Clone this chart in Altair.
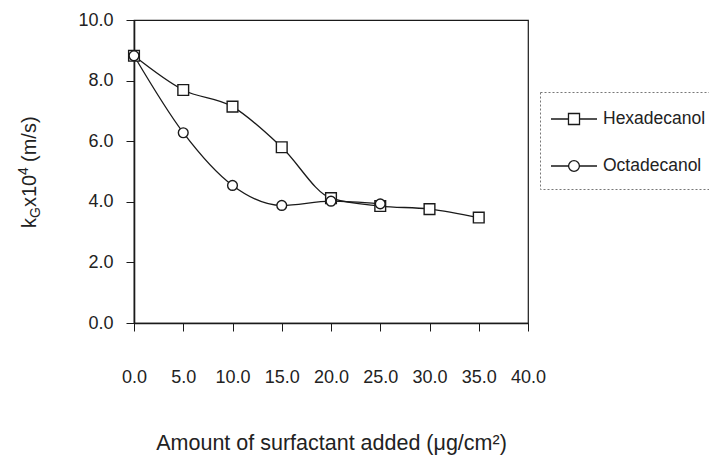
import altair as alt
import pandas as pd

# ---- data ----
series_names = ["Hexadecanol", "Octadecanol"]
amount_hexa = [0, 5, 10, 15, 20, 25, 30, 35]
kg_hexa = [8.82, 7.69, 7.14, 5.80, 4.12, 3.86, 3.76, 3.48]
amount_octa = [0, 5, 10, 15, 20, 25]
kg_octa = [8.82, 6.28, 4.54, 3.88, 4.02, 3.93]
x_ticks = [0, 5, 10, 15, 20, 25, 30, 35, 40]
y_ticks = [0, 2, 4, 6, 8, 10]

df = pd.concat([
    pd.DataFrame({"series": series_names[0], "amount": amount_hexa, "kg": kg_hexa}),
    pd.DataFrame({"series": series_names[1], "amount": amount_octa, "kg": kg_octa}),
], ignore_index=True)

FONT = "Liberation Sans"
INK = "#1a1a1a"
TXT = "#222222"

X = alt.X("amount:Q",
          scale=alt.Scale(domain=[0, 40], nice=False, zero=False),
          axis=alt.Axis(values=x_ticks, format=".1f",
                        title="Amount of surfactant added (μg/cm²)",
                        titleFont=FONT, titleFontSize=21.5, titleFontWeight="normal",
                        titleColor=TXT, titleY=126, titleBaseline="alphabetic",
                        labelFont=FONT, labelFontSize=18, labelColor=TXT,
                        labelPadding=37, tickSize=8, tickColor=INK,
                        domainColor=INK, domainWidth=1.6, grid=False,
                        labelFlush=False))
Y = alt.Y("kg:Q",
          scale=alt.Scale(domain=[0, 10], nice=False),
          axis=alt.Axis(values=y_ticks, format=".1f", title=None,
                        labelFont=FONT, labelFontSize=18, labelColor=TXT,
                        labelPadding=13, tickSize=8, tickColor=INK,
                        domainColor=INK, domainWidth=1.6, grid=False))

lines = alt.Chart(df).mark_line(
    interpolate="monotone", color=INK, strokeWidth=1.3
).encode(x=X, y=Y, detail="series:N")

pts_hexa = alt.Chart(df).transform_filter(
    alt.datum.series == series_names[0]
).mark_point(shape="square", filled=True, fill="white", stroke=INK,
             strokeWidth=1.4, size=115, opacity=1).encode(x=X, y=Y)

pts_octa = alt.Chart(df).transform_filter(
    alt.datum.series == series_names[1]
).mark_point(shape="circle", filled=True, fill="white", stroke=INK,
             strokeWidth=1.4, size=95, opacity=1).encode(x=X, y=Y)

# legend glyphs: line with a hollow marker in the middle (unit = 12 px)
sq_path = "M-1.92,0H-0.46M0.46,0H1.92M-0.46,-0.46H0.46V0.46H-0.46Z"
circ_path = ("M-1.92,0H-0.45M0.45,0H1.92M0.45,0A0.45,0.45,0,1,1,-0.45,0"
             "A0.45,0.45,0,1,1,0.45,0Z")

legend_layer = alt.Chart(df).transform_filter(
    alt.datum.amount < -1000
).mark_point(
    filled=False, color=INK, strokeWidth=1.3, opacity=1
).encode(
    x=X, y=Y,
    shape=alt.Shape("series:N",
                    scale=alt.Scale(domain=series_names, range=[sq_path, circ_path]),
                    legend=alt.Legend(
                        title=None, orient="none", legendX=406, legendY=72,
                        symbolSize=576, symbolStrokeColor=INK,
                        symbolStrokeWidth=1.3, symbolOpacity=1, symbolOffset=7,
                        labelFont=FONT, labelFontSize=17.5, labelColor=TXT,
                        labelOffset=16, direction="vertical"))
)

one = pd.DataFrame({"a": [0]})
def ytxt(t, x, y, size):
    return alt.Chart(one).mark_text(
        text=t, angle=270, align="left", baseline="alphabetic",
        font=FONT, fontSize=size, color=TXT
    ).encode(x=alt.value(x), y=alt.value(y))

ytitle = (ytxt("k", -98, 208, 20) + ytxt("G", -94, 198, 14) +
          ytxt("x10", -98, 187, 20) + ytxt("4", -106, 155, 14) +
          ytxt("(m/s)", -98, 142, 20))

chart = alt.layer(lines, pts_hexa, pts_octa, legend_layer, ytitle).properties(
    width=394, height=303,
    autosize=alt.AutoSizeParams(type="none"),
    padding={"left": 126, "top": 12, "right": 181, "bottom": 132},
    background="white",
).configure_view(
    stroke=INK, strokeWidth=1.2
).configure_legend(
    strokeColor="#777777", strokeDash=[2, 2], padding=14, rowPadding=25
)

chart.save("out.html", embed_options={"renderer": "svg", "actions": False})
